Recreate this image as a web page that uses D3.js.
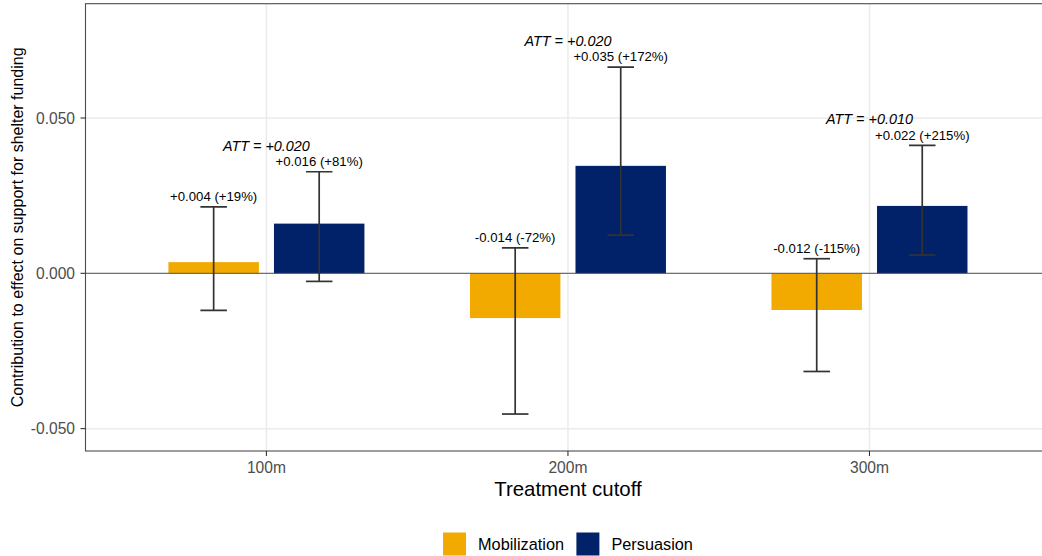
<!DOCTYPE html>
<html>
<head>
<meta charset="utf-8">
<script src="https://cdn.jsdelivr.net/npm/d3@7"></script>
<style>
  html, body { margin: 0; padding: 0; background: #fff; }
  svg { display: block; font-family: "Liberation Sans", Arial, sans-serif; }
</style>
</head>
<body>
<svg id="chart" width="1042" height="556"></svg>
<script>
// Contributions of each channel at three treatment cutoffs
const cutoffs = ["100m", "200m", "300m"];
const channels = ["Mobilization", "Persuasion"];

const mobilization = [0.0036, -0.0144, -0.0118];
const mobilizationLow = [-0.0119, -0.0453, -0.0316];
const mobilizationHigh = [0.0214, 0.0082, 0.0047];
const mobilizationShare = [19, -72, -115];

const persuasion = [0.0160, 0.0346, 0.0217];
const persuasionLow = [-0.0026, 0.0123, 0.0059];
const persuasionHigh = [0.0327, 0.0664, 0.0412];
const persuasionShare = [81, 172, 215];

const att = [0.020, 0.020, 0.010];

const yTicks = [-0.05, 0, 0.05];

const colors = { Mobilization: "#F2A900", Persuasion: "#012169" };

// long-format rows for drawing
const rows = [];
cutoffs.forEach((c, i) => {
  rows.push({ cutoff: c, channel: "Mobilization", value: mobilization[i],
              low: mobilizationLow[i], high: mobilizationHigh[i], share: mobilizationShare[i] });
  rows.push({ cutoff: c, channel: "Persuasion", value: persuasion[i],
              low: persuasionLow[i], high: persuasionHigh[i], share: persuasionShare[i] });
});

const svg = d3.select("#chart");
const panel = { left: 85.5, top: 3.7, right: 1050.4, bottom: 451 };

const x = d3.scalePoint().domain(cutoffs).range([panel.left, panel.right]).padding(0.6);
const step = x.step();
const dodge = d3.scaleOrdinal().domain(channels).range([-0.175, 0.175]);
const barWidth = 0.3 * step;
const capWidth = 0.088 * step;

const y = d3.scaleLinear().domain([-0.0572, 0.0868]).range([panel.bottom, panel.top]);

// plain ASCII hyphen for negative numbers
const ascii = s => s.replace(/\u2212/g, "-");
const fmtVal = v => ascii(d3.format("+.3f")(v));
const fmtShare = v => (v >= 0 ? "+" : "") + v + "%";

// panel clip
svg.append("defs").append("clipPath").attr("id", "panelClip")
  .append("rect").attr("x", panel.left).attr("y", panel.top)
  .attr("width", panel.right - panel.left).attr("height", panel.bottom - panel.top);

const plot = svg.append("g").attr("clip-path", "url(#panelClip)");

// grid lines
plot.selectAll(".hgrid").data(yTicks).join("line")
  .attr("x1", panel.left).attr("x2", panel.right)
  .attr("y1", d => y(d)).attr("y2", d => y(d))
  .attr("stroke", "#ebebeb").attr("stroke-width", 1.5);
plot.selectAll(".vgrid").data(cutoffs).join("line")
  .attr("x1", d => x(d)).attr("x2", d => x(d))
  .attr("y1", panel.top).attr("y2", panel.bottom)
  .attr("stroke", "#ebebeb").attr("stroke-width", 1.5);

// bars
plot.selectAll(".bar").data(rows).join("rect")
  .attr("x", d => x(d.cutoff) + dodge(d.channel) * step - barWidth / 2)
  .attr("width", barWidth)
  .attr("y", d => Math.min(y(d.value), y(0)))
  .attr("height", d => Math.abs(y(d.value) - y(0)))
  .attr("fill", d => colors[d.channel]);

// zero reference line
plot.append("line")
  .attr("x1", panel.left).attr("x2", panel.right)
  .attr("y1", y(0)).attr("y2", y(0))
  .attr("stroke", "#555").attr("stroke-width", 1);

// error bars
const eb = plot.selectAll(".eb").data(rows).join("g")
  .attr("stroke", "#333").attr("stroke-width", 1.7).attr("fill", "none");
eb.append("line")
  .attr("x1", d => x(d.cutoff) + dodge(d.channel) * step)
  .attr("x2", d => x(d.cutoff) + dodge(d.channel) * step)
  .attr("y1", d => y(d.low)).attr("y2", d => y(d.high));
eb.append("line")
  .attr("x1", d => x(d.cutoff) + dodge(d.channel) * step - capWidth / 2)
  .attr("x2", d => x(d.cutoff) + dodge(d.channel) * step + capWidth / 2)
  .attr("y1", d => y(d.low)).attr("y2", d => y(d.low));
eb.append("line")
  .attr("x1", d => x(d.cutoff) + dodge(d.channel) * step - capWidth / 2)
  .attr("x2", d => x(d.cutoff) + dodge(d.channel) * step + capWidth / 2)
  .attr("y1", d => y(d.high)).attr("y2", d => y(d.high));

// value labels above each error bar
plot.selectAll(".vlab").data(rows).join("text")
  .attr("x", d => x(d.cutoff) + dodge(d.channel) * step)
  .attr("y", d => y(d.high) - 5.7)
  .attr("text-anchor", "middle")
  .attr("font-size", 13.2)
  .attr("fill", "#000")
  .text(d => `${fmtVal(d.value)} (${fmtShare(d.share)})`);

// total effect labels per cutoff
plot.selectAll(".att").data(cutoffs).join("text")
  .attr("x", d => x(d))
  .attr("y", (d, i) => y(Math.max(mobilizationHigh[i], persuasionHigh[i])) - 21)
  .attr("text-anchor", "middle")
  .attr("font-size", 14.4)
  .attr("font-style", "italic")
  .attr("fill", "#000")
  .text((d, i) => `ATT = ${fmtVal(att[i])}`);

// panel border
svg.append("rect")
  .attr("x", panel.left).attr("y", panel.top)
  .attr("width", panel.right - panel.left).attr("height", panel.bottom - panel.top)
  .attr("fill", "none").attr("stroke", "#4d4d4d").attr("stroke-width", 1.1);

// y axis
const yAxis = svg.append("g");
yAxis.selectAll("line").data(yTicks).join("line")
  .attr("x1", panel.left - 5).attr("x2", panel.left)
  .attr("y1", d => y(d)).attr("y2", d => y(d))
  .attr("stroke", "#333").attr("stroke-width", 1.1);
yAxis.selectAll("text").data(yTicks).join("text")
  .attr("x", 75).attr("y", d => y(d)).attr("dy", "0.36em")
  .attr("text-anchor", "end").attr("font-size", 15.6).attr("fill", "#4d4d4d")
  .text(d => ascii(d3.format(".3f")(d)));

// x axis
const xAxis = svg.append("g");
xAxis.selectAll("line").data(cutoffs).join("line")
  .attr("x1", d => x(d)).attr("x2", d => x(d))
  .attr("y1", panel.bottom).attr("y2", panel.bottom + 5)
  .attr("stroke", "#333").attr("stroke-width", 1.1);
xAxis.selectAll("text").data(cutoffs).join("text")
  .attr("x", d => x(d)).attr("y", 473.3)
  .attr("text-anchor", "middle").attr("font-size", 15.6).attr("fill", "#4d4d4d")
  .text(d => d);

// axis titles
svg.append("text")
  .attr("x", (panel.left + panel.right) / 2).attr("y", 496)
  .attr("text-anchor", "middle").attr("font-size", 20.4).attr("fill", "#000")
  .text("Treatment cutoff");
svg.append("text")
  .attr("transform", `translate(22.7, ${(panel.top + panel.bottom) / 2}) rotate(-90)`)
  .attr("text-anchor", "middle").attr("font-size", 16).attr("fill", "#000")
  .text("Contribution to effect on support for shelter funding");

// legend, centred under the panel
const legend = svg.append("g");
const keySize = 23, keyGap = 12, itemGap = 12.4, legendTop = 532.5;
const items = legend.selectAll("g").data(channels).join("g");
items.append("rect")
  .attr("width", keySize).attr("height", keySize)
  .attr("y", legendTop)
  .attr("fill", d => colors[d]);
items.append("text")
  .attr("x", keySize + keyGap).attr("y", legendTop + keySize / 2).attr("dy", "0.36em")
  .attr("font-size", 16.3).attr("fill", "#000")
  .text(d => d);
const widths = [];
items.each(function () {
  const w = this.querySelector("text").getComputedTextLength();
  widths.push(keySize + keyGap + w);
});
const total = d3.sum(widths) + itemGap * (widths.length - 1);
let cursor = (panel.left + panel.right) / 2 - total / 2;
items.attr("transform", (d, i) => {
  const t = `translate(${cursor},0)`;
  cursor += widths[i] + itemGap;
  return t;
});
</script>
</body>
</html>
